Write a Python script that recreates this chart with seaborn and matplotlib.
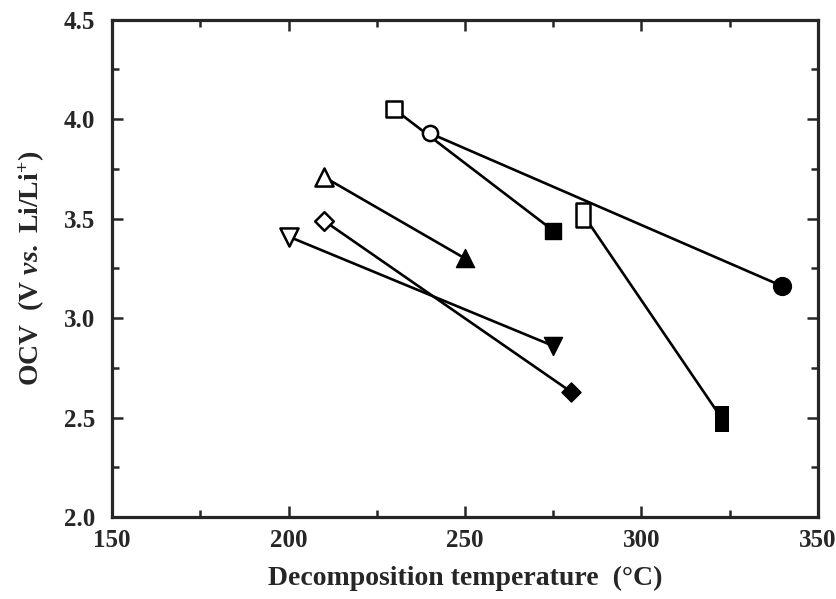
import numpy as np
import pandas as pd
import matplotlib
matplotlib.use("Agg")
import matplotlib.pyplot as plt
from matplotlib.path import Path
import seaborn as sns

# Data: (open marker point -> filled marker point)
series = ["square", "circle", "rect", "tri_up", "diamond", "tri_down"]
x_open = [230, 240, 283.5, 210, 210, 200]
y_open = [4.05, 3.93, 3.52, 3.71, 3.49, 3.41]
x_filled = [275, 340, 323, 250, 280, 275]
y_filled = [3.44, 3.16, 2.49, 3.30, 2.63, 2.86]
x_ticks = [150, 200, 250, 300, 350]
y_ticks = [2.0, 2.5, 3.0, 3.5, 4.0, 4.5]

sns.set_style("ticks")
plt.rcParams["font.family"] = ["Liberation Serif", "DejaVu Serif"]
plt.rcParams["font.weight"] = "bold"
plt.rcParams["mathtext.fontset"] = "custom"
plt.rcParams["mathtext.rm"] = "Liberation Serif:bold"
plt.rcParams["mathtext.it"] = "Liberation Serif:italic:bold"
plt.rcParams["mathtext.bf"] = "Liberation Serif:bold"

fig = plt.figure(figsize=(8.37, 5.99), dpi=100)
ax = fig.add_axes([0.134, 0.137, 0.843, 0.830])

rect_marker = Path([(-0.55, -1), (0.55, -1), (0.55, 1), (-0.55, 1), (-0.55, -1)],
                   [Path.MOVETO, Path.LINETO, Path.LINETO, Path.LINETO, Path.CLOSEPOLY])
markers = {"square": "s", "circle": "o", "rect": rect_marker,
           "tri_up": "^", "diamond": "D", "tri_down": "v"}
sizes = {"square": 120, "circle": 120, "rect": 300,
         "tri_up": 170, "diamond": 90, "tri_down": 170}
sizes_filled = {"square": 120, "circle": 165, "rect": 360,
                "tri_up": 170, "diamond": 95, "tri_down": 170}
edge_filled = {"square": 1.0, "circle": 1.0, "rect": 0.0,
               "tri_up": 1.0, "diamond": 1.0, "tri_down": 1.0}

for i, s in enumerate(series):
    df = pd.DataFrame({"x": [x_open[i], x_filled[i]], "y": [y_open[i], y_filled[i]]})
    sns.lineplot(data=df, x="x", y="y", color="black", lw=1.9, ax=ax,
                 zorder=2, estimator=None, sort=False)
    sns.scatterplot(x=[x_open[i]], y=[y_open[i]], marker=markers[s], s=sizes[s],
                    facecolor="white", edgecolor="black", linewidth=1.8, ax=ax, zorder=3)
    sns.scatterplot(x=[x_filled[i]], y=[y_filled[i]], marker=markers[s], s=sizes_filled[s],
                    color="black", edgecolor="black", linewidth=edge_filled[s], ax=ax, zorder=3)

ax.set_xlim(150, 350)
ax.set_ylim(2.0, 4.5)
ax.set_xticks(x_ticks)
ax.set_yticks(y_ticks)
ax.set_xticklabels([str(v) for v in x_ticks])
ax.set_yticklabels([f"{v:.1f}" for v in y_ticks])
ax.set_xticks(np.arange(150, 351, 25), minor=True)
ax.set_yticks(np.arange(2.0, 4.51, 0.25), minor=True)
ax.tick_params(which="both", direction="in", top=True, right=True, width=1.8, labelsize=18)
ax.tick_params(axis="y", which="major", pad=12)
ax.tick_params(axis="x", which="major", pad=9)
ax.tick_params(which="major", length=8)
ax.tick_params(which="minor", length=5)
for sp in ax.spines.values():
    sp.set_linewidth(2.3)
    sp.set_visible(True)
for lab in ax.get_xticklabels() + ax.get_yticklabels():
    lab.set_fontweight("bold")

ax.set_xlabel("Decomposition temperature  (\u00b0C)", fontsize=20, fontweight="bold", labelpad=10)
ax.set_ylabel(r"OCV  (V $\it{vs.}$ Li/Li$^{+}$)", fontsize=20, fontweight="bold", labelpad=12)

fig.savefig("out.png", dpi=100)
